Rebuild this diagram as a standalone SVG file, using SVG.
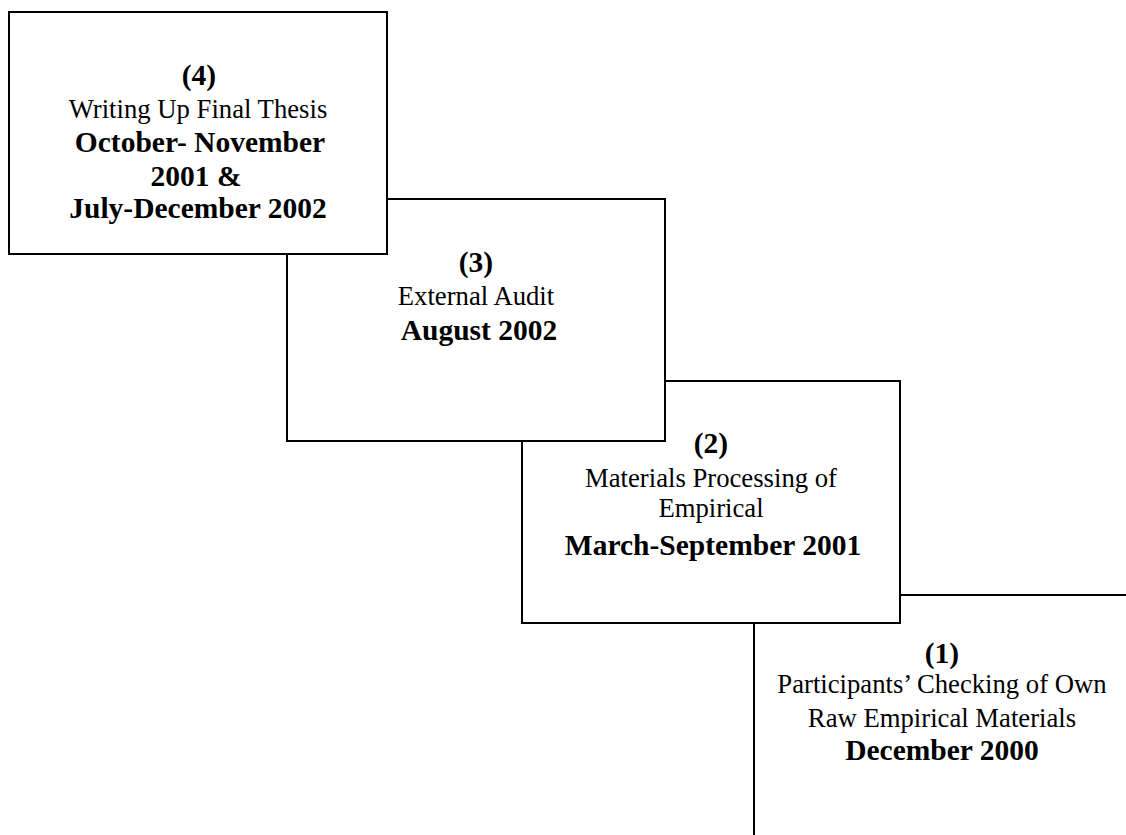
<svg xmlns="http://www.w3.org/2000/svg" width="1126" height="835" viewBox="0 0 1126 835">
<style>
.box{fill:#ffffff;stroke:#000000;stroke-width:2}
.r{font-family:"Liberation Serif","Times New Roman",serif;font-size:26.7px;fill:#000;text-anchor:middle}
.b{font-family:"Liberation Serif","Times New Roman",serif;font-size:29.5px;font-weight:bold;fill:#000;text-anchor:middle}
</style>
<rect x="0" y="0" width="1126" height="835" fill="#ffffff"/>
<g id="connectors"></g>
<g id="node1">
<rect class="box" x="754" y="595" width="378" height="242"/>
<text class="b" x="942" y="663">(1)</text>
<text class="r" x="942" y="693">Participants’ Checking of Own</text>
<text class="r" x="942" y="727">Raw Empirical Materials</text>
<text class="b" x="942" y="760">December 2000</text>
</g>
<g id="node2">
<rect class="box" x="522" y="381" width="378" height="242"/>
<text class="b" x="711" y="453">(2)</text>
<text class="r" x="711" y="487">Materials Processing of</text>
<text class="r" x="711" y="517">Empirical</text>
<text class="b" x="713" y="555">March-September 2001</text>
</g>
<g id="node3">
<rect class="box" x="287" y="199" width="378" height="242"/>
<text class="b" x="476" y="272">(3)</text>
<text class="r" x="476" y="305">External Audit</text>
<text class="b" x="479" y="340">August 2002</text>
</g>
<g id="node4">
<rect class="box" x="9" y="12" width="378" height="242"/>
<text class="b" x="199" y="85">(4)</text>
<text class="r" x="198" y="118">Writing Up Final Thesis</text>
<text class="b" x="200" y="152">October- November</text>
<text class="b" x="196" y="186">2001 &amp;</text>
<text class="b" x="198" y="218">July-December 2002</text>
</g>
</svg>
